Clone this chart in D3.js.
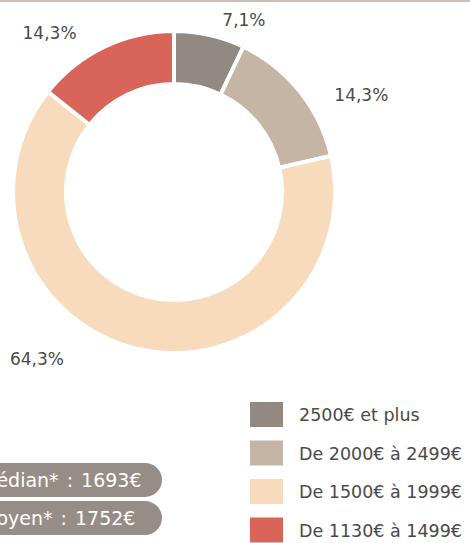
<!DOCTYPE html>
<html>
<head>
<meta charset="utf-8">
<script src="https://cdn.jsdelivr.net/npm/d3@7"></script>
<style>
  body { margin: 0; background: #fff; }
  svg { display: block; font-family: "DejaVu Sans", sans-serif; }
</style>
</head>
<body>
<div id="chart"></div>
<script>

      // data
      var categories = ["2500€ et plus", "De 2000€ à 2499€", "De 1500€ à 1999€", "De 1130€ à 1499€"];
      var values = [7.1, 14.3, 64.3, 14.3];
      var labels = ["7,1%", "14,3%", "64,3%", "14,3%"];
      var colors = ["#928982", "#c4b5a5", "#f8dbbd", "#d9645a"];
      var stats = ["Médian* : 1693€", "Moyen* : 1752€"];

      var width = 470,
          height = 543;

      var svg = d3.select("#chart").append("svg")
                .attr("width", width)
                .attr("height", height);

      // top rule
      svg.append("rect")
          .attr("x", 0).attr("y", 0)
          .attr("width", width).attr("height", 2)
          .attr("fill", "#c9c1b5");

      ////// donut /////////////////
      var cx = 174, cy = 192;
      var outerR = 161, innerR = 108;

      var pie = d3.pie().sort(null).value(function(d) { return d; });
      var arc = d3.arc().innerRadius(innerR).outerRadius(outerR);
      var arcs = pie(values);

      var donut = svg.append("g")
          .attr("transform", "translate(" + cx + "," + cy + ")");

      donut.selectAll(".slice")
          .data(arcs)
          .enter()
          .append("path")
          .attr("class", "slice")
          .attr("d", arc)
          .attr("fill", function(d, i) { return colors[i]; })
          .attr("stroke", "#fff")
          .attr("stroke-width", 4);

      // labels sit outside the ring, pushed round a bit like the original
      var labelShift = [9.3, 11.3, 26.6, -12.3];   // degrees
      var labelRad = [186, 211, 216, 202];

      donut.selectAll(".plabel")
          .data(arcs)
          .enter()
          .append("text")
          .attr("class", "plabel")
          .attr("transform", function(d, i) {
              var a = (d.startAngle + d.endAngle) / 2 + labelShift[i] * Math.PI / 180;
              return "translate(" + (Math.sin(a) * labelRad[i]) + "," + (-Math.cos(a) * labelRad[i]) + ")";
          })
          .attr("text-anchor", "middle")
          .attr("dy", "0.35em")
          .attr("font-size", 17)
          .attr("fill", "#4a4a4a")
          .text(function(d, i) { return labels[i]; });

      ////// legend /////////////////
      var yLeg = d3.scaleBand()
          .domain(categories)
          .range([396, 550])
          .paddingInner(0);

      var legend = svg.append("g")
          .selectAll(".leg")
          .data(categories)
          .enter()
          .append("g")
          .attr("class", "leg")
          .attr("transform", function(d) { return "translate(250," + yLeg(d) + ")"; });

      legend.append("rect")
          .attr("x", 0)
          .attr("y", 6)
          .attr("width", 33)
          .attr("height", 25)
          .attr("fill", function(d, i) { return colors[i]; });

      legend.append("text")
          .attr("x", 49)
          .attr("y", 19)
          .attr("dy", "0.35em")
          .attr("font-size", 17.5)
          .attr("fill", "#4a4a4a")
          .text(function(d) { return d; });

      ////// median / mean pills /////////////////
      var yPill = d3.scaleBand()
          .domain(stats)
          .range([463, 535])
          .paddingInner(0.11);

      var pills = svg.append("g")
          .selectAll(".pill")
          .data(stats)
          .enter()
          .append("g")
          .attr("class", "pill")
          .attr("transform", function(d) { return "translate(0," + yPill(d) + ")"; });

      pills.append("rect")
          .attr("x", -40)
          .attr("y", 0)
          .attr("width", 202)
          .attr("height", yPill.bandwidth())
          .attr("rx", yPill.bandwidth() / 2)
          .attr("fill", "#968d86");

      // the pills run off the left edge in the original, text too
      pills.append("text")
          .attr("x", -20)
          .attr("y", yPill.bandwidth() / 2)
          .attr("dy", "0.35em")
          .attr("font-size", 19)
          .attr("word-spacing", 2)
          .attr("fill", "#fff")
          .text(function(d) { return d; });

</script>
</body>
</html>
